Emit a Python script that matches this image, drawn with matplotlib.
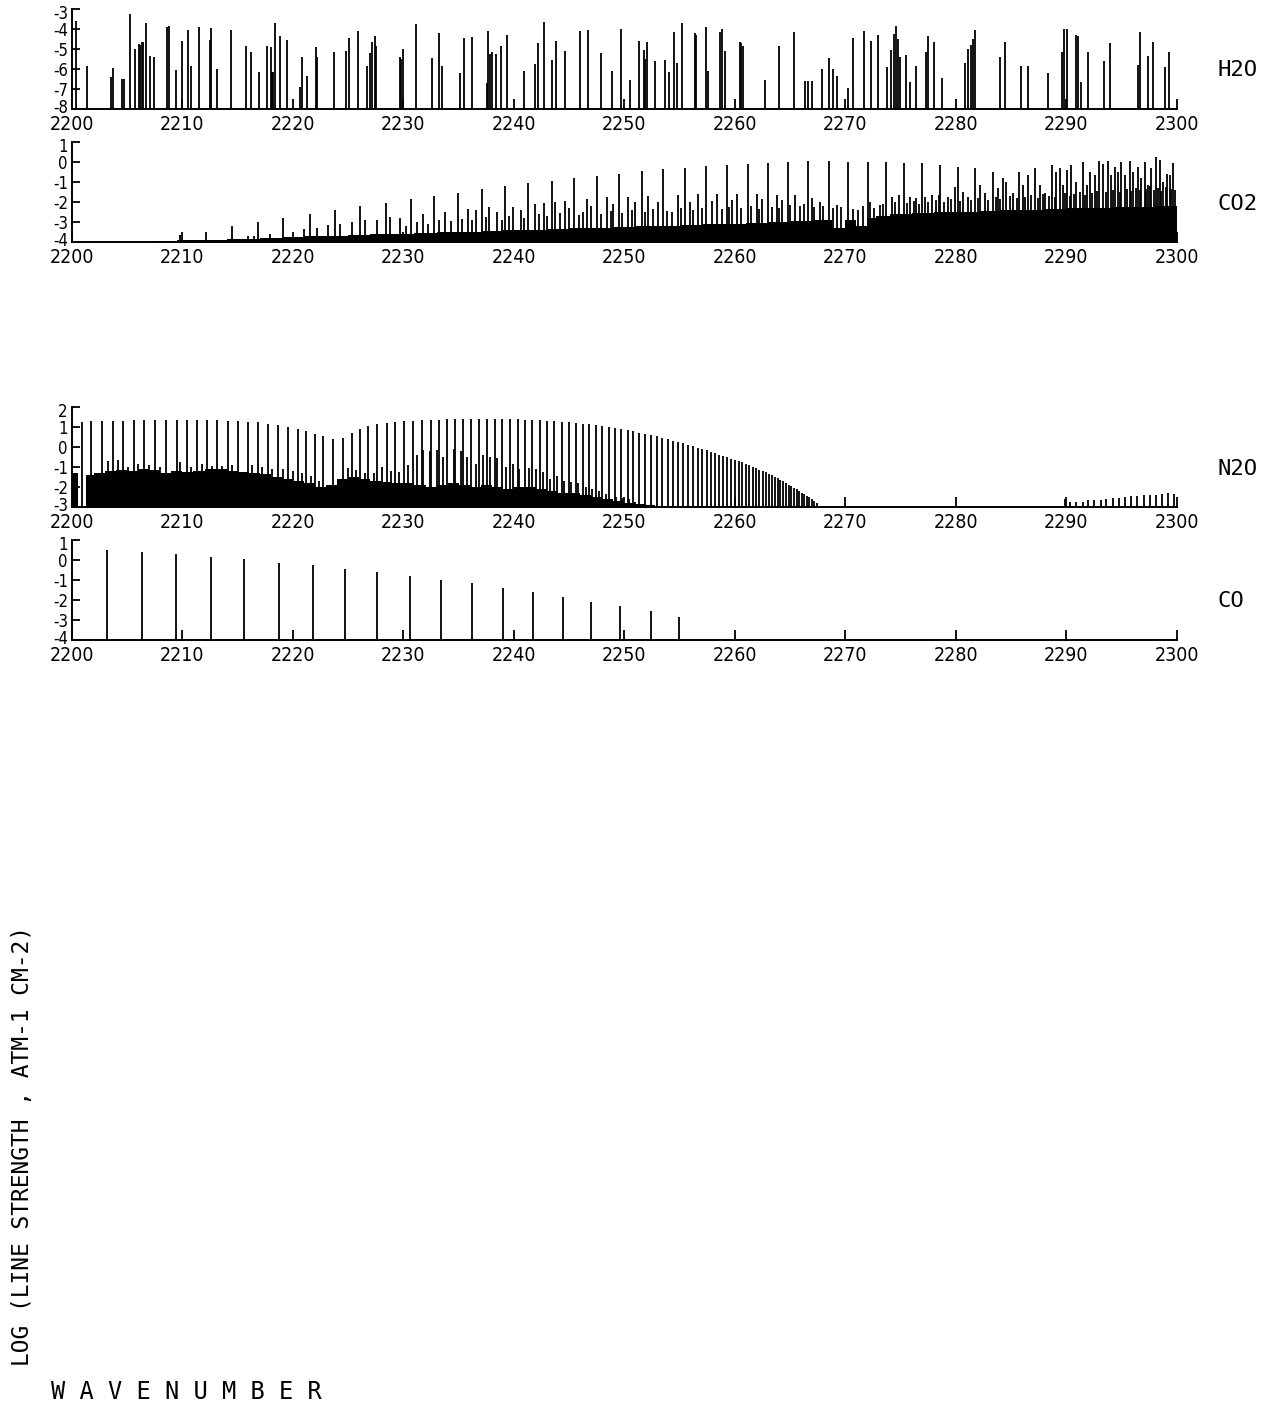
import matplotlib.pyplot as plt
from matplotlib.transforms import ScaledTranslation

# ---- H2O ----
h2o_wn = [2200.36, 2201.33, 2203.53, 2203.68, 2204.49, 2204.71, 2205.25, 2205.70, 2206.06, 2206.15,
          2206.30, 2206.45, 2206.67, 2207.06, 2207.42, 2208.63, 2208.78, 2209.38, 2209.92, 2210.53,
          2210.74, 2211.52, 2212.49, 2212.61, 2213.09, 2214.39, 2215.72, 2216.17, 2216.95, 2217.62,
          2217.98, 2218.10, 2218.16, 2218.40, 2218.82, 2219.43, 2220.63, 2220.79, 2221.24, 2222.05,
          2222.20, 2223.68, 2224.77, 2225.10, 2225.85, 2226.67, 2226.97, 2227.12, 2227.42, 2227.51,
          2229.68, 2229.80, 2229.98, 2231.13, 2232.55, 2233.21, 2233.45, 2235.11, 2235.50, 2236.17,
          2237.55, 2237.68, 2237.83, 2237.98, 2238.37, 2238.80, 2239.40, 2240.90, 2241.90, 2242.20,
          2242.71, 2243.41, 2243.77, 2244.62, 2245.97, 2246.73, 2247.87, 2248.90, 2249.65, 2250.50,
          2251.31, 2251.76, 2251.90, 2252.07, 2252.76, 2253.67, 2254.05, 2254.48, 2254.72, 2255.23,
          2256.38, 2256.50, 2257.35, 2257.59, 2258.64, 2258.80, 2259.10, 2260.45, 2260.60, 2260.75,
          2262.72, 2263.98, 2265.37, 2266.33, 2266.63, 2266.94, 2267.85, 2268.54, 2268.90, 2269.29,
          2270.26, 2270.71, 2271.70, 2272.31, 2272.97, 2273.78, 2274.09, 2274.39, 2274.63, 2274.81,
          2274.99, 2275.48, 2275.84, 2276.44, 2277.29, 2277.50, 2278.01, 2278.76, 2280.81, 2281.10,
          2281.33, 2281.57, 2281.78, 2283.98, 2284.43, 2285.88, 2286.55, 2288.30, 2289.62, 2289.80,
          2290.02, 2290.92, 2291.07, 2291.37, 2291.97, 2293.42, 2293.94, 2296.50, 2296.65, 2297.35,
          2297.86, 2298.91, 2299.31]
h2o_str = [-3.6, -5.83, -6.4, -5.97, -6.5, -6.5, -3.25, -5.0, -4.75, -4.8,
           -4.67, -4.67, -3.7, -5.33, -5.42, -3.92, -3.87, -6.05, -4.62, -4.03,
           -5.83, -3.92, -4.53, -3.97, -6.0, -4.03, -4.87, -5.13, -6.13, -4.83,
           -4.92, -6.17, -6.17, -3.7, -4.37, -4.53, -6.92, -5.42, -6.33, -4.92,
           -5.42, -5.13, -5.08, -4.47, -4.08, -5.83, -5.2, -4.67, -4.37, -4.83,
           -5.42, -5.5, -5.0, -3.75, -5.47, -4.2, -5.87, -6.2, -4.47, -4.38,
           -6.7, -4.12, -5.25, -5.17, -5.25, -4.83, -4.28, -6.08, -5.77, -4.72,
           -3.63, -5.55, -4.58, -5.08, -4.08, -4.05, -5.22, -6.08, -4.0, -6.55,
           -4.58, -5.03, -5.5, -4.67, -5.58, -5.53, -6.17, -4.13, -5.7, -3.7,
           -4.22, -4.3, -3.92, -6.08, -4.17, -4.0, -5.08, -4.63, -4.7, -4.83,
           -6.55, -4.87, -4.17, -6.58, -6.58, -6.58, -6.0, -5.47, -6.0, -6.37,
           -6.97, -4.45, -4.12, -4.58, -4.3, -5.88, -5.05, -4.25, -3.83, -4.5,
           -5.42, -5.3, -6.67, -5.83, -5.17, -4.37, -4.67, -6.47, -5.7, -5.0,
           -4.8, -4.5, -4.05, -5.42, -4.63, -5.83, -5.83, -6.2, -5.17, -4.0,
           -4.0, -4.3, -4.33, -6.67, -5.17, -5.58, -4.72, -5.8, -4.17, -5.33,
           -4.63, -5.92, -5.17]

# ---- CO2 ----
co2_strong_wn = [2209.77, 2212.13, 2214.45, 2216.80, 2219.12, 2221.54, 2223.80, 2226.06, 2228.39, 2230.65,
                 2232.79, 2234.96, 2237.07, 2239.19, 2241.30, 2243.41, 2245.43, 2247.54, 2249.50, 2251.55,
                 2253.51, 2255.48, 2257.38, 2259.25, 2261.15, 2263.01, 2264.82, 2266.63, 2268.51, 2270.26,
                 2272.01, 2273.67, 2275.32, 2276.98, 2278.61, 2280.21, 2281.78, 2283.32, 2284.28, 2285.73,
                 2286.49, 2287.18, 2288.66, 2289.41, 2290.02, 2290.47, 2291.52, 2292.13, 2292.94, 2293.33,
                 2293.78, 2294.39, 2294.99, 2295.75, 2296.50, 2297.10, 2297.71, 2298.10, 2298.46, 2299.07,
                 2299.67]
co2_strong_str = [-3.65, -3.48, -3.18, -3.02, -2.82, -2.58, -2.4, -2.18, -2.07, -1.85,
                  -1.7, -1.53, -1.35, -1.2, -1.07, -0.93, -0.78, -0.68, -0.58, -0.45,
                  -0.35, -0.28, -0.2, -0.15, -0.1, -0.07, 0.0, 0.05, 0.05, 0.0,
                  0.0, 0.0, -0.03, -0.07, -0.15, -0.23, -0.3, -0.52, -0.82, -0.5,
                  -0.63, -0.28, -0.15, -0.32, -0.4, -0.15, 0.0, -0.5, 0.05, -0.12,
                  0.05, -0.23, 0.0, 0.05, -0.23, 0.0, -0.32, 0.25, 0.08, -0.58,
                  -0.03]
co2_mid_wn = [2215.9, 2216.5, 2217.9, 2221.0, 2222.14, 2223.2, 2224.25, 2225.31, 2226.52, 2227.57,
              2228.78, 2229.68, 2231.79, 2233.76, 2235.87, 2236.6, 2237.77, 2238.5, 2239.94, 2240.6,
              2241.90, 2242.71, 2243.71, 2244.62, 2245.0, 2246.58, 2247.0, 2248.45, 2249.0, 2250.35,
              2251.0, 2252.16, 2253.0, 2254.87, 2255.9, 2256.68, 2257.9, 2258.34, 2259.7, 2260.21,
              2261.96, 2262.5, 2263.77, 2264.3, 2265.43, 2266.94, 2267.69, 2269.20, 2269.65, 2271.16,
              2272.22, 2273.12, 2274.18, 2274.87, 2275.84, 2276.44, 2277.19, 2277.80, 2278.49, 2279.31,
              2279.91, 2280.66, 2281.11, 2282.17, 2282.62, 2283.83, 2284.58, 2285.19, 2286.09, 2287.60,
              2288.05, 2289.11, 2289.71, 2290.92, 2291.83, 2292.58, 2294.09, 2294.69, 2295.29, 2296.05,
              2296.80, 2297.40, 2298.76, 2299.37]
co2_mid_str = [-3.7, -3.7, -3.6, -3.35, -3.3, -3.15, -3.12, -3.02, -2.9, -2.9,
               -2.73, -2.78, -2.6, -2.5, -2.35, -2.4, -2.23, -2.5, -2.23, -2.4,
               -2.1, -2.03, -2.0, -1.93, -2.3, -1.85, -2.2, -1.77, -2.1, -1.73,
               -2.0, -1.68, -2.0, -1.65, -2.0, -1.6, -1.95, -1.6, -1.9, -1.6,
               -1.6, -1.85, -1.65, -1.9, -1.65, -1.82, -1.98, -2.15, -2.23, -2.4,
               -1.98, -2.15, -1.73, -1.65, -1.73, -1.82, -1.73, -1.65, -1.65, -1.73,
               -1.23, -1.48, -1.73, -1.15, -1.57, -1.32, -0.98, -1.57, -1.15, -1.15,
               -1.57, -0.48, -1.15, -0.98, -1.15, -0.65, -0.65, -0.48, -0.65, -0.48,
               -0.82, -1.15, -0.98, -0.65]
co2_weak_wn = [2230.2, 2231.2, 2232.2, 2233.2, 2234.3, 2235.3, 2236.2, 2237.5, 2238.9, 2239.6,
               2240.9, 2242.3, 2243.0, 2244.2, 2245.9, 2246.3, 2247.9, 2248.8, 2249.8, 2250.7,
               2251.9, 2252.6, 2253.9, 2254.3, 2255.1, 2256.2, 2257.0, 2258.8, 2259.5, 2260.6,
               2261.5, 2262.2, 2263.4, 2264.0, 2265.0, 2265.9, 2266.3, 2267.2, 2268.0, 2268.9,
               2270.7, 2271.6, 2272.6, 2273.4, 2274.5, 2275.6, 2276.2, 2276.7, 2277.5, 2278.2,
               2278.9, 2279.6, 2280.4, 2281.4, 2282.0, 2282.9, 2283.6, 2284.0, 2284.9, 2285.5,
               2286.3, 2286.8, 2287.4, 2287.9, 2288.4, 2289.0, 2289.9, 2290.3, 2290.7, 2291.2,
               2291.7, 2292.3, 2292.8, 2293.6, 2294.2, 2294.9, 2295.5, 2295.9, 2296.3, 2296.7,
               2297.2, 2297.6, 2297.9, 2298.3, 2298.6, 2299.0, 2299.5, 2299.8]
co2_weak_str = [-3.2, -3.0, -3.1, -2.9, -2.95, -2.85, -2.9, -2.75, -2.9, -2.7,
                -2.8, -2.6, -2.7, -2.55, -2.65, -2.5, -2.6, -2.45, -2.55, -2.4,
                -2.5, -2.35, -2.45, -2.5, -2.3, -2.4, -2.3, -2.35, -2.25, -2.3,
                -2.2, -2.35, -2.25, -2.3, -2.15, -2.2, -2.1, -2.25, -2.2, -2.3,
                -2.35, -2.2, -2.3, -2.1, -2.0, -2.05, -1.95, -2.1, -2.0, -1.9,
                -2.0, -1.85, -1.95, -1.9, -1.8, -1.9, -1.75, -1.85, -1.7, -1.8,
                -1.75, -1.65, -1.8, -1.6, -1.7, -1.75, -1.55, -1.7, -1.6, -1.5,
                -1.65, -1.55, -1.45, -1.5, -1.4, -1.5, -1.35, -1.45, -1.3, -1.4,
                -1.35, -1.2, -1.4, -1.3, -1.45, -1.25, -1.35, -1.4]
co2_fill_wn = [2207.0, 2212.0, 2216.0, 2218.0, 2220.0, 2222.0, 2224.0, 2226.0, 2228.0, 2230.0,
               2232.0, 2234.0, 2236.0, 2238.0, 2240.0, 2242.0, 2244.0, 2246.0, 2248.0, 2250.0,
               2252.0, 2254.0, 2256.0, 2258.0, 2260.0, 2262.0, 2264.0, 2266.0, 2268.0, 2269.5,
               2270.5, 2271.5, 2272.5, 2273.0, 2275.0, 2277.0, 2279.0, 2281.0, 2283.0, 2285.0,
               2287.0, 2289.0, 2291.0, 2293.0, 2295.0, 2297.0, 2299.0, 2300.0]
co2_fill_top = [-3.95, -3.9, -3.85, -3.8, -3.75, -3.7, -3.7, -3.65, -3.6, -3.6,
                -3.55, -3.5, -3.5, -3.45, -3.4, -3.4, -3.35, -3.3, -3.3, -3.25,
                -3.2, -3.2, -3.15, -3.1, -3.1, -3.05, -3.0, -2.95, -2.9, -3.3,
                -2.9, -3.2, -2.8, -2.7, -2.6, -2.55, -2.5, -2.5, -2.45, -2.4,
                -2.4, -2.35, -2.3, -2.3, -2.25, -2.25, -2.2, -2.2]

# ---- N2O ----
n2o_strong_wn = [2200.87, 2201.69, 2202.68, 2203.68, 2204.64, 2205.61, 2206.55, 2207.51, 2208.48, 2209.47,
                 2210.38, 2211.28, 2212.25, 2213.15, 2214.09, 2214.99, 2215.96, 2216.86, 2217.77, 2218.67,
                 2219.58, 2220.42, 2221.18, 2221.99, 2222.74, 2223.65, 2224.55, 2225.31, 2226.06, 2226.82,
                 2227.57, 2228.48, 2229.23, 2230.05, 2230.89, 2231.70, 2232.49, 2233.24, 2233.91, 2234.66,
                 2235.35, 2236.08, 2236.83, 2237.59, 2238.28, 2238.94, 2239.64, 2240.33, 2241.00, 2241.66,
                 2242.35, 2243.02, 2243.65, 2244.32, 2244.98, 2245.61, 2246.21, 2246.82, 2247.42, 2247.99,
                 2248.60, 2249.14, 2249.68, 2250.29, 2250.80, 2251.34, 2251.86, 2252.37, 2252.91, 2253.42,
                 2253.91, 2254.42, 2254.87, 2255.32, 2255.78, 2256.23, 2256.63, 2257.05, 2257.44, 2257.83,
                 2258.22, 2258.58, 2258.95, 2259.31, 2259.67, 2260.00, 2260.33, 2260.66, 2260.99, 2261.30,
                 2261.60, 2261.90, 2262.20, 2262.51, 2262.78, 2263.05, 2263.32, 2263.59, 2263.86, 2264.13,
                 2264.37, 2264.62, 2264.86, 2265.10, 2265.34, 2265.58, 2265.82, 2266.06, 2266.27, 2266.49,
                 2266.73, 2266.94, 2267.15, 2267.40]
n2o_strong_str = [1.27, 1.28, 1.3, 1.32, 1.32, 1.33, 1.33, 1.34, 1.34, 1.34,
                  1.34, 1.34, 1.33, 1.33, 1.32, 1.3, 1.27, 1.23, 1.17, 1.1,
                  1.0, 0.9, 0.78, 0.66, 0.55, 0.42, 0.45, 0.7, 0.9, 1.05,
                  1.15, 1.22, 1.27, 1.3, 1.32, 1.34, 1.36, 1.37, 1.38, 1.39,
                  1.4, 1.4, 1.4, 1.4, 1.4, 1.4, 1.39, 1.38, 1.37, 1.36,
                  1.34, 1.32, 1.3, 1.27, 1.24, 1.21, 1.17, 1.13, 1.09, 1.05,
                  1.0, 0.95, 0.9, 0.84, 0.78, 0.72, 0.66, 0.6, 0.53, 0.46,
                  0.39, 0.32, 0.25, 0.18, 0.11, 0.04, -0.03, -0.1, -0.17, -0.24,
                  -0.31, -0.38, -0.45, -0.52, -0.59, -0.64, -0.7, -0.77, -0.85, -0.92,
                  -0.99, -1.06, -1.13, -1.2, -1.27, -1.34, -1.41, -1.48, -1.56, -1.64,
                  -1.72, -1.8, -1.88, -1.96, -2.04, -2.12, -2.2, -2.28, -2.36, -2.44,
                  -2.52, -2.6, -2.7, -2.8]
n2o_mid_wn = [2203.3, 2204.2, 2205.1, 2206.0, 2207.0, 2208.0, 2209.8, 2210.8, 2211.8, 2212.7,
              2213.6, 2214.5, 2216.3, 2217.2, 2218.1, 2219.1, 2220.0, 2220.8, 2221.6, 2222.4,
              2225.0, 2225.7, 2226.5, 2227.3, 2228.1, 2228.9, 2229.6, 2230.4, 2231.2, 2231.8,
              2232.4, 2233.0, 2233.6, 2234.6, 2235.2, 2235.8, 2236.6, 2237.2, 2237.8, 2238.5,
              2239.3, 2239.9, 2240.5, 2241.4, 2242.0, 2242.6, 2243.3, 2243.9, 2244.5, 2245.2,
              2245.8, 2246.5, 2247.1, 2247.7, 2248.3, 2249.2, 2249.8, 2250.4, 2251.0]
n2o_mid_str = [-0.7, -0.65, -1.0, -0.85, -0.9, -1.0, -0.75, -1.0, -0.85, -0.95,
               -0.95, -0.9, -0.9, -1.0, -1.1, -1.1, -1.2, -1.3, -1.45, -1.7,
               -1.05, -1.15, -1.3, -1.3, -1.0, -1.2, -1.25, -0.9, -0.4, -0.15,
               -0.2, -0.15, -0.5, -0.1, -0.2, -0.5, -0.85, -0.4, -0.5, -0.55,
               -1.0, -0.85, -1.1, -1.05, -1.1, -1.25, -1.6, -1.45, -1.7, -1.75,
               -1.8, -2.0, -2.1, -2.2, -2.35, -2.5, -2.55, -2.6, -2.75]
n2o_fill_wn = [2200.0, 2201.1, 2201.5, 2202.5, 2203.5, 2204.5, 2205.5, 2206.5, 2207.5, 2208.5,
               2209.5, 2210.5, 2211.5, 2212.5, 2213.5, 2214.5, 2215.5, 2216.5, 2217.5, 2218.5,
               2219.5, 2220.5, 2221.5, 2222.5, 2223.5, 2224.5, 2225.5, 2226.5, 2227.5, 2228.5,
               2229.5, 2230.5, 2231.5, 2232.5, 2233.5, 2234.5, 2235.5, 2236.5, 2237.5, 2238.5,
               2239.5, 2240.5, 2241.5, 2242.5, 2243.5, 2244.5, 2245.5, 2246.5, 2247.5, 2248.5,
               2249.5, 2250.5, 2251.5, 2252.5, 2253.0]
n2o_fill_top = [-1.3, -3.0, -1.4, -1.3, -1.2, -1.15, -1.2, -1.1, -1.15, -1.3,
                -1.2, -1.25, -1.2, -1.1, -1.1, -1.2, -1.25, -1.3, -1.35, -1.5,
                -1.6, -1.7, -1.8, -2.0, -1.9, -1.6, -1.5, -1.6, -1.7, -1.75,
                -1.8, -1.8, -1.9, -2.0, -1.9, -1.8, -1.9, -2.0, -1.9, -2.0,
                -2.1, -2.0, -2.0, -2.1, -2.2, -2.3, -2.3, -2.4, -2.5, -2.6,
                -2.7, -2.8, -2.85, -2.9, -3.0]
n2o_hot_wn = [2289.86, 2290.30, 2290.90, 2291.50, 2292.00, 2292.55, 2293.10, 2293.60, 2294.20, 2294.75,
              2295.35, 2295.90, 2296.40, 2297.00, 2297.55, 2298.10, 2298.70, 2299.20, 2299.75]
n2o_hot_str = [-2.62, -2.73, -2.73, -2.73, -2.67, -2.67, -2.63, -2.62, -2.53, -2.53,
               -2.5, -2.45, -2.45, -2.42, -2.42, -2.38, -2.33, -2.3, -2.33]

# ---- CO ----
co_wn = [2203.15, 2206.30, 2209.40, 2212.60, 2215.60, 2218.70, 2221.80, 2224.70, 2227.60, 2230.60,
         2233.40, 2236.20, 2239.00, 2241.70, 2244.40, 2247.00, 2249.60, 2252.40, 2254.90]
co_str = [0.51, 0.41, 0.29, 0.17, 0.04, -0.13, -0.26, -0.43, -0.6, -0.8,
          -1.02, -1.17, -1.39, -1.61, -1.86, -2.08, -2.32, -2.57, -2.86]

x_ticks = [2200, 2210, 2220, 2230, 2240, 2250, 2260, 2270, 2280, 2290, 2300]
mono = 'DejaVu Sans Mono'
xtick_kw = dict(family='DejaVu Sans', fontstretch='condensed', fontsize=14)
ytick_kw = dict(family='DejaVu Sans', fontstretch='condensed', fontsize=12)


def panel(fig, bottom, ylo, yhi, yticks, name, name_y):
    ax = fig.add_axes([0.0568, bottom, 0.872, 0.0712])
    ax.set_xlim(2200, 2300)
    ax.set_ylim(ylo, yhi)
    for s in ['top', 'right']:
        ax.spines[s].set_visible(False)
    for s in ['left', 'bottom']:
        ax.spines[s].set_linewidth(1.4)
    ax.set_xticks(x_ticks)
    ax.set_xticklabels([str(t) for t in x_ticks], **xtick_kw)
    ax.set_yticks(yticks)
    ax.set_yticklabels([str(t) for t in yticks], **ytick_kw)
    ax.tick_params(axis='x', direction='in', length=7, width=1.3, pad=4.5)
    ax.tick_params(axis='y', direction='in', length=6, width=1.3, pad=3)
    # squeeze the end labels toward the middle, as the plotter did
    ylabs = ax.get_yticklabels()
    top, bot = ylabs[0], ylabs[-1]
    top.set_transform(top.get_transform() + ScaledTranslation(0, -2 / 72, fig.dpi_scale_trans))
    bot.set_transform(bot.get_transform() + ScaledTranslation(0, 2.2 / 72, fig.dpi_scale_trans))
    fig.text(0.961, name_y, name, family=mono, fontsize=16, va='center')
    return ax


def main():
    fig = plt.figure(figsize=(12.67, 14.04), dpi=100)
    lw = 1.3

    ax = panel(fig, 0.92236, -8, -3, [-3, -4, -5, -6, -7, -8], 'H2O', 0.950)
    ax.vlines(h2o_wn, -8, h2o_str, color='black', lw=lw)

    ax = panel(fig, 0.82764, -4, 1, [1, 0, -1, -2, -3, -4], 'CO2', 0.855)
    ax.fill_between(co2_fill_wn, -4, co2_fill_top, step='mid', color='black', lw=0)
    ax.vlines(co2_weak_wn, -4, co2_weak_str, color='black', lw=lw)
    ax.vlines(co2_mid_wn, -4, co2_mid_str, color='black', lw=lw)
    ax.vlines(co2_strong_wn, -4, co2_strong_str, color='black', lw=lw)

    ax = panel(fig, 0.63889, -3, 2, [2, 1, 0, -1, -2, -3], 'N2O', 0.666)
    ax.fill_between(n2o_fill_wn, -3, n2o_fill_top, step='mid', color='black', lw=0)
    ax.vlines(n2o_mid_wn, -3, n2o_mid_str, color='black', lw=lw)
    ax.vlines(n2o_strong_wn, -3, n2o_strong_str, color='black', lw=lw)
    ax.vlines(n2o_hot_wn, -3, n2o_hot_str, color='black', lw=lw)

    ax = panel(fig, 0.54416, -4, 1, [1, 0, -1, -2, -3, -4], 'CO', 0.572)
    ax.vlines(co_wn, -4, co_str, color='black', lw=lw)

    fig.text(0.018, 0.184, 'LOG (LINE STRENGTH , ATM-1 CM-2)', family=mono, fontsize=16.5,
             rotation=90, ha='center', va='center')
    fig.text(0.040, 0.0085, 'W A V E N U M B E R', family=mono, fontsize=17, ha='left', va='center')

    fig.savefig('out.png', dpi=100)
    plt.close(fig)


if __name__ == '__main__':
    main()
